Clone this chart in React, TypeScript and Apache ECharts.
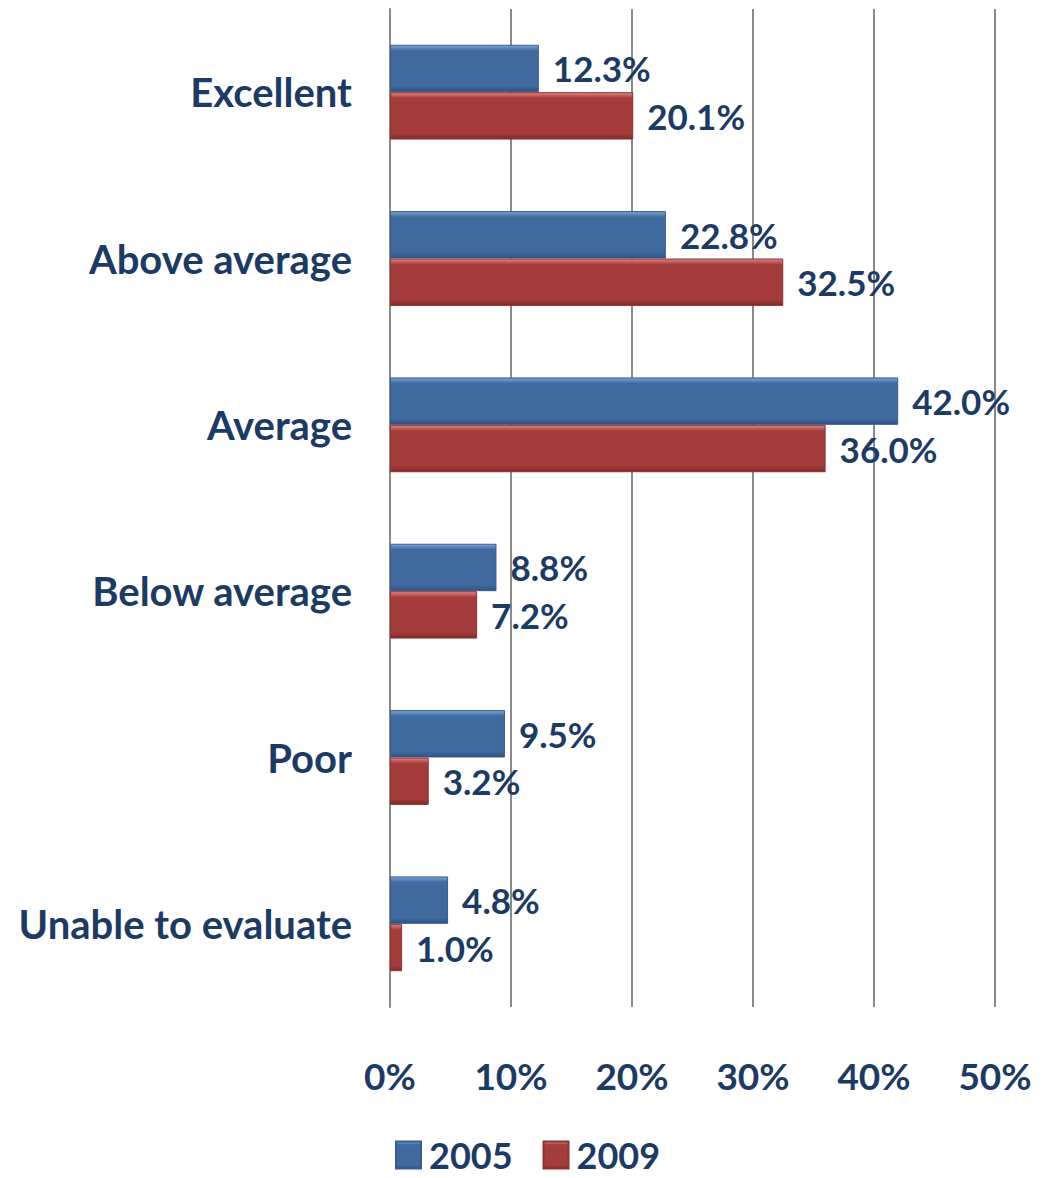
import React, { useEffect, useRef } from "react";
import * as echarts from "echarts";

const categories = ["Excellent", "Above average", "Average", "Below average", "Poor", "Unable to evaluate"];
const series2005 = [12.3, 22.8, 42.0, 8.8, 9.5, 4.8];
const series2009 = [20.1, 32.5, 36.0, 7.2, 3.2, 1.0];
const seriesNames = ["2005", "2009"];

const TEXT = "#1b3a64";
const FONT = "Lato";

function grad(top: string, mid: string, bottom: string) {
  return new echarts.graphic.LinearGradient(0, 0, 0, 1, [
    { offset: 0, color: top },
    { offset: 0.12, color: mid },
    { offset: 0.88, color: mid },
    { offset: 1, color: bottom },
  ]);
}

export default function App() {
  const ref = useRef<HTMLDivElement>(null);
  useEffect(() => {
    if (!ref.current) return;
    const chart = echarts.init(ref.current, undefined, { renderer: "svg" });
    const label = {
      show: true,
      position: "right" as const,
      distance: 14,
      color: TEXT,
      fontFamily: FONT,
      fontWeight: "bold" as const,
      fontSize: 35,
      formatter: (p: any) => p.value.toFixed(1) + "%",
    };
    chart.setOption({
      animation: false,
      backgroundColor: "#ffffff",
      grid: { left: 390, right: 50, top: 9, bottom: 171, containLabel: false },
      legend: {
        top: 1136,
        left: 395,
        padding: 0,
        icon: "rect",
        itemWidth: 25,
        itemHeight: 27,
        itemGap: 30,
        textStyle: {
          color: TEXT,
          fontFamily: FONT,
          fontWeight: "bold",
          fontSize: 36,
          lineHeight: 38,
          padding: [0, 0, 0, 3],
        },
        data: seriesNames,
      },
      xAxis: {
        type: "value",
        min: 0,
        max: 50,
        interval: 10,
        axisLine: { show: false },
        axisTick: { show: false },
        splitLine: { show: true, lineStyle: { color: "#8a8a8a", width: 2 } },
        axisLabel: {
          formatter: "{value}%",
          margin: 50,
          color: TEXT,
          fontFamily: FONT,
          fontWeight: "bold",
          fontSize: 37,
        },
      },
      yAxis: {
        type: "category",
        inverse: true,
        data: categories,
        axisLine: { show: true, lineStyle: { color: "#8a8a8a", width: 2 } },
        axisTick: { show: false },
        axisLabel: {
          margin: 38,
          color: TEXT,
          fontFamily: FONT,
          fontWeight: "bold",
          fontSize: 40,
        },
      },
      series: [
        {
          name: seriesNames[0],
          type: "bar",
          data: series2005,
          barGap: "0%",
          barCategoryGap: "43%",
          itemStyle: {
            color: grad("#7fa3d4", "#40699f", "#2f5283"),
            borderColor: "#355d8f",
            borderWidth: 1,
          },
          label,
        },
        {
          name: seriesNames[1],
          type: "bar",
          data: series2009,
          itemStyle: {
            color: grad("#e08582", "#a33c3b", "#7f2a29"),
            borderColor: "#8e3332",
            borderWidth: 1,
          },
          label,
        },
      ],
    });
    return () => chart.dispose();
  }, []);
  return (
    <div
      ref={ref}
      style={{ position: "absolute", left: 0, top: 0, width: 1045, height: 1178 }}
    />
  );
}
